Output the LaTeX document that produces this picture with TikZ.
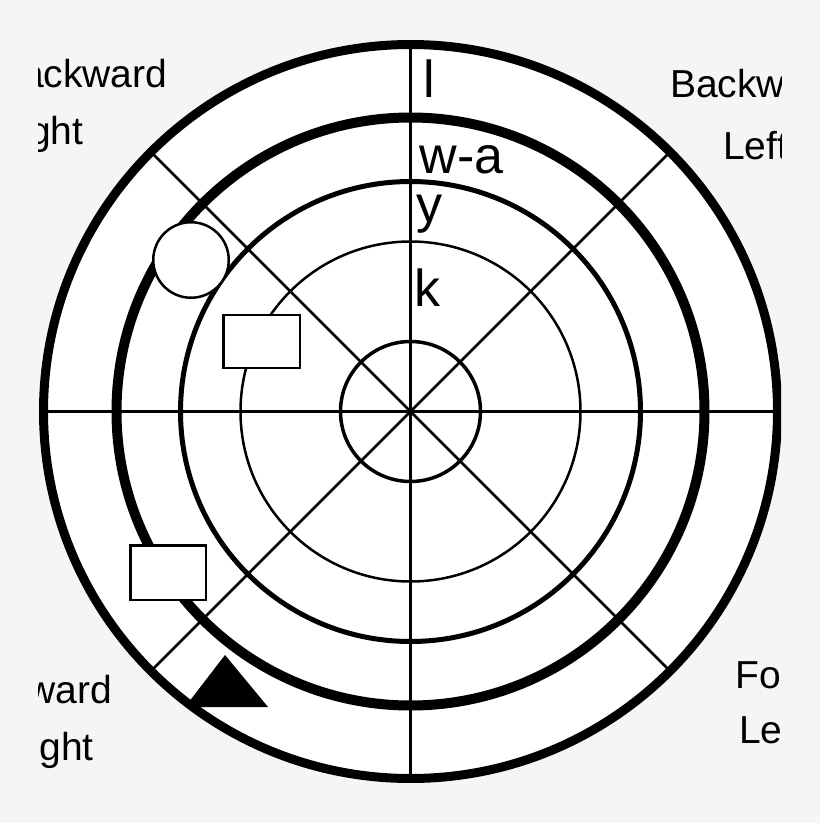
\documentclass[tikz,border=0pt]{standalone}
\usepackage{fontspec}
\setmainfont{Liberation Sans}
\definecolor{bggray}{RGB}{245,245,245}
\begin{document}
\begin{tikzpicture}[x=1pt,y=-1pt,
  spoke/.style={draw=black,line width=2.5pt},
  ring/.style={draw=black},
  midlabel/.style={inner sep=0pt,anchor=base west,font=\fontsize{52}{60}\selectfont},
  cornerlabel/.style={inner sep=0pt,font=\fontsize{39}{45}\selectfont},
  marker/.style={draw=black,fill=white,line width=2.5pt,inner sep=0pt}]
\useasboundingbox (0,0) rectangle (820,823);
\fill[bggray] (0,0) rectangle (820,823);
\begin{scope}
\clip (38.5,40) rectangle (781,782);
\coordinate (c) at (410.5,411.5);
\fill[white] (c) circle[radius=371.5pt];
% spokes
\coordinate (n) at (410.5,44.5);
\coordinate (s) at (410.5,778.5);
\coordinate (w) at (43.5,411.5);
\coordinate (e) at (777.5,411.5);
\coordinate (nw) at (151,152);
\coordinate (se) at (670,671);
\coordinate (ne) at (670,152);
\coordinate (sw) at (151,671);
\draw[spoke] (n) -- (s);
\draw[spoke] (w) -- (e);
\draw[spoke] (nw) -- (se);
\draw[spoke] (ne) -- (sw);
% rings
\draw[ring,line width=9pt] (c) circle[radius=367pt];
\draw[ring,line width=10pt] (c) circle[radius=294pt];
\draw[ring,line width=5pt] (c) circle[radius=230pt];
\draw[ring,line width=2.5pt] (c) circle[radius=170pt];
\draw[ring,line width=3.5pt] (c) circle[radius=70pt];
% ring labels
\node[midlabel] (l1) at (423,97) {l};
\node[midlabel] (l2) at (419.5,173) {w-a};
\node[midlabel] (l3) at (416.5,222) {y};
\node[midlabel] (l4) at (414.5,306) {k};
% corner labels
\node[cornerlabel,anchor=base east] (tl1) at (167.5,87) {Backward};
\node[cornerlabel,anchor=base east] (tl2) at (83.5,144) {Right};
\node[cornerlabel,anchor=base west] (tr1) at (670,97) {Backward};
\node[cornerlabel,anchor=base west] (tr2) at (723,159) {Left};
\node[cornerlabel,anchor=base east] (bl1) at (112,703) {Forward};
\node[cornerlabel,anchor=base east] (bl2) at (94,760) {Right};
\node[cornerlabel,anchor=base west] (br1) at (735,688) {Forward};
\node[cornerlabel,anchor=base west] (br2) at (739,743) {Left};
% markers
\node[marker,circle,minimum size=75.5pt] (ball) at (191,260) {};
\node[marker,rectangle,minimum width=76.5pt,minimum height=53pt] (box1) at (261.5,341.5) {};
\node[marker,rectangle,minimum width=75.5pt,minimum height=54.5pt] (box2) at (168,572.5) {};
\coordinate (t1) at (225,655);
\coordinate (t2) at (185,707);
\coordinate (t3) at (268,707);
\fill[black] (t1) -- (t2) -- (t3) -- cycle;
\end{scope}
\end{tikzpicture}
\end{document}
